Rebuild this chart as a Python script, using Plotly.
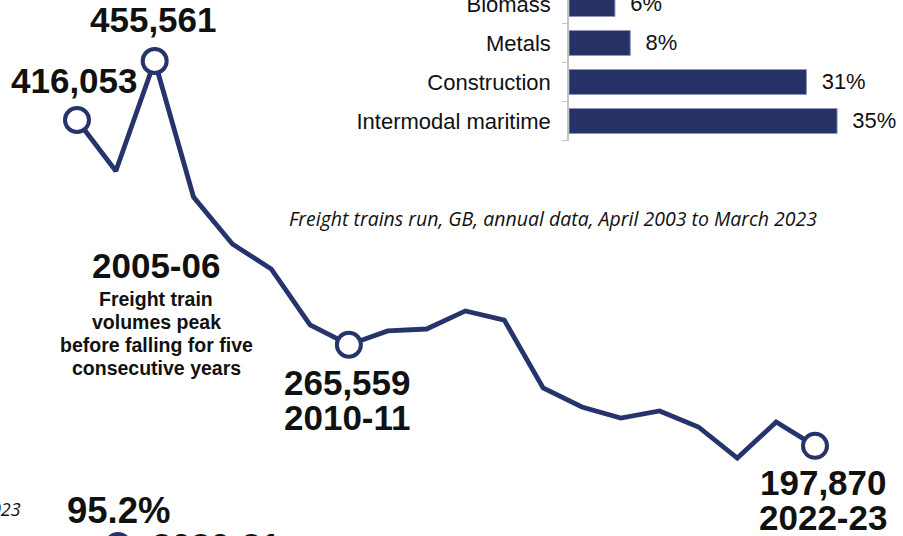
import plotly.graph_objects as go

# Annual freight trains run, GB
years = ["2003-04", "2004-05", "2005-06", "2006-07", "2007-08", "2008-09",
         "2009-10", "2010-11", "2011-12", "2012-13", "2013-14", "2014-15",
         "2015-16", "2016-17", "2017-18", "2018-19", "2019-20", "2020-21",
         "2021-22", "2022-23"]
trains = [416053, 381900, 455561, 364500, 333000, 316300,
          278800, 265559, 274800, 276100, 288200, 282100,
          236600, 223900, 216500, 221200, 210500, 189700,
          213800, 197870]

# Highlighted years (circled on the line)
highlight_idx = [0, 2, 7, 19]

# Share of freight by commodity
commodities = ["Intermodal maritime", "Construction", "Metals", "Biomass"]
shares = [35, 31, 8, 6]

peak_note = ["Freight train", "volumes peak", "before falling for five", "consecutive years"]

NAVY = "#27336B"
W, H = 903, 536
BOLD = "Liberation Sans"


def px(x):
    return x / W


def py(y):
    return 1 - y / H


fig = go.Figure()

fig.add_trace(go.Scatter(
    x=years, y=trains, mode="lines",
    line=dict(color=NAVY, width=4.8),
    hoverinfo="x+y", showlegend=False,
))
fig.add_trace(go.Scatter(
    x=[years[i] for i in highlight_idx],
    y=[trains[i] for i in highlight_idx],
    mode="markers",
    marker=dict(size=24, color="white", line=dict(color=NAVY, width=4)),
    hoverinfo="x+y", showlegend=False, cliponaxis=False,
))

fig.add_trace(go.Bar(
    x=shares, y=commodities, orientation="h",
    xaxis="x2", yaxis="y2",
    marker=dict(color="#263266", line=dict(color="#8e96b9", width=1)),
    width=0.64,
    textposition="outside",
    texttemplate="  %{x}%",
    textfont=dict(family="Liberation Sans", size=22, color="#111111"),
    cliponaxis=False, showlegend=False,
))

# line chart axes: one category step ≈ 38.84 px, first year at x=77
step = 738 / 19
x_lo = -77 / step
x_hi = 19 + (W - 815) / step
units_per_px = 669.6
y_hi = 416053 + 120 * units_per_px
y_lo = 416053 - (H - 120) * units_per_px

# bar chart axes
bar_left = 569
bar_bottom = 141
bar_px_per_pct = 7.66
cat_step = 39

fig.update_layout(
    width=W, height=H,
    margin=dict(l=0, r=0, t=0, b=0, autoexpand=False),
    paper_bgcolor="white", plot_bgcolor="rgba(0,0,0,0)",
    xaxis=dict(domain=[0, 1], range=[x_lo, x_hi], visible=False,
               type="category", automargin=False),
    yaxis=dict(domain=[0, 1], range=[y_lo, y_hi], visible=False, automargin=False),
    xaxis2=dict(domain=[px(bar_left), 1], anchor="y2", automargin=False,
                range=[0, (W - bar_left) / bar_px_per_pct], visible=False),
    yaxis2=dict(domain=[py(bar_bottom), 1], anchor="x2", type="category",
                automargin=False,
                range=[-(bar_bottom - 121) / cat_step, 121 / cat_step],
                showline=True, linecolor="#c4c4c4", linewidth=1.5,
                ticks="outside", tickson="boundaries", ticklen=5,
                tickcolor="#c4c4c4", ticklabelstandoff=12,
                tickfont=dict(family="Liberation Sans", size=22, color="#111111"),
                showgrid=False, zeroline=False),
    font=dict(family=BOLD),
)

annotations = []


def point_label(i, text, dx, dy, size=35):
    annotations.append(dict(
        x=years[i], y=trains[i], xref="x", yref="y", text=f"<b>{text}</b>",
        showarrow=False, xshift=dx, yshift=dy,
        font=dict(family=BOLD, size=size, color="#111111"),
    ))


point_label(0, f"{trains[0]:,}", -3, 40)
point_label(2, f"{trains[2]:,}", -1, 42)
point_label(7, f"{trains[7]:,}", -1, -38)
point_label(7, years[7], -1, -73)
point_label(19, f"{trains[19]:,}", 8, -37)
point_label(19, years[19], 8, -72)


def paper_text(x, y, text, size, italic=False, bold=True, family=BOLD,
               xanchor="center", color="#111111"):
    t = f"<b>{text}</b>" if bold else text
    if italic:
        t = f"<i>{t}</i>"
    annotations.append(dict(
        x=px(x), y=py(y), xref="paper", yref="paper", text=t,
        showarrow=False, xanchor=xanchor, yanchor="middle", align="center",
        font=dict(family=family, size=size, color=color),
    ))


paper_text(156, 265, years[2], 35)
for k, line in enumerate(peak_note):
    paper_text(156, 298.5 + 23 * k, line, 19.5)
paper_text(553, 218, "Freight trains run, GB, annual data, April 2003 to March 2023",
           19.5, italic=True, bold=False, family="Open Sans")
paper_text(23, 509, "April 2022 to March 2023", 18, italic=True, bold=False,
           family="Open Sans", xanchor="right")
paper_text(119, 510, "95.2%", 36.5)
paper_text(150, 545, years[17], 35, xanchor="left")

fig.update_layout(annotations=annotations)

# small ring marker beside the 2020-21 figure
fig.add_shape(type="circle", xref="paper", yref="paper",
              x0=px(106), x1=px(130), y0=py(558), y1=py(534),
              line=dict(color=NAVY, width=4), fillcolor="white")

fig.write_html("out.html")
